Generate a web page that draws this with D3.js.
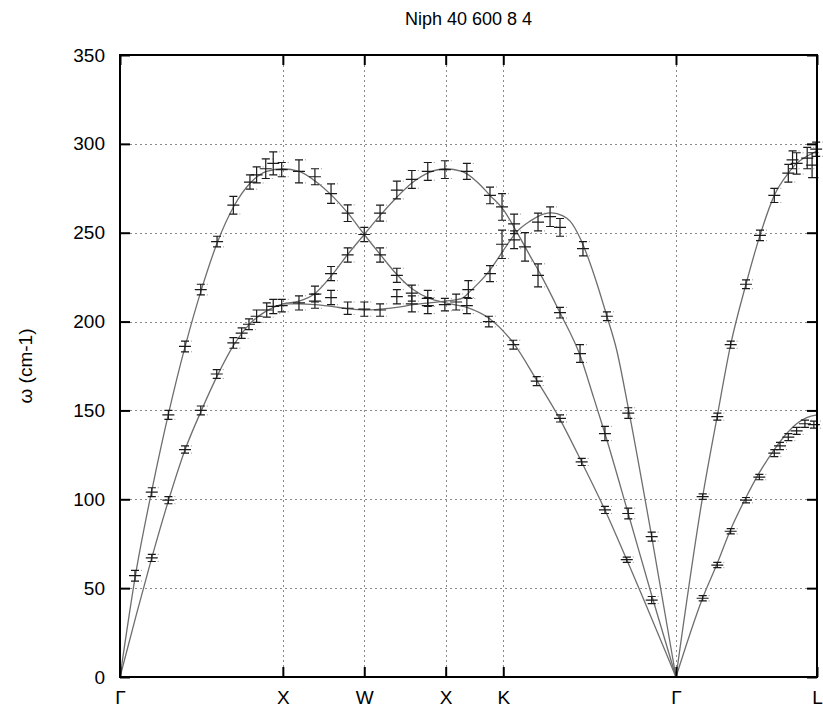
<!DOCTYPE html>
<html>
<head>
<meta charset="utf-8">
<script src="https://cdn.jsdelivr.net/npm/d3@7"></script>
<style>
  body { margin: 0; background: #fff; }
  text { font-family: "Liberation Sans", Arial, sans-serif; fill: #000; }
</style>
</head>
<body>
<svg id="chart" width="823" height="714"></svg>
<script>
// High-symmetry path of the FCC Brillouin zone (path length in units of 2π/a)
const pathLabels = ["Γ", "X", "W", "X", "K", "Γ", "L"];
const pathPos = [0, 1, 1.5, 2, 2.3536, 3.4142, 4.2802];
const yTicks = [0, 50, 100, 150, 200, 250, 300, 350];

// Calculated dispersion branches (q along path, ω in cm-1)
const branchA_q = [0, 0.1, 0.2, 0.3, 0.4, 0.5, 0.6, 0.7, 0.8, 0.9, 1.0, 1.1, 1.2, 1.3, 1.4, 1.5, 1.6, 1.7, 1.8, 1.9, 2.0, 2.13, 2.272, 2.415, 2.559, 2.702, 2.835, 2.978, 3.112, 3.4142];
const branchA_w = [0, 60, 107, 149, 186, 218, 245, 265, 278, 284.5, 286, 284.5, 279, 271, 261, 249, 237.5, 226.5, 218, 213, 210.5, 208, 201.5, 188, 167, 145, 121, 94, 66, 0];

const branchB_q = [0, 0.1, 0.195, 0.3, 0.4, 0.5, 0.6, 0.7, 0.8, 0.9, 1.0, 1.1, 1.2, 1.3, 1.4, 1.5, 1.6, 1.7, 1.8, 1.9, 2.0, 2.1, 2.2, 2.272, 2.354, 2.436, 2.518, 2.58, 2.702, 2.825, 2.906, 2.978, 3.121, 3.265, 3.4142];
const branchB_w = [0, 35, 67, 100, 128, 150, 170, 187, 199, 206, 210, 211.5, 216, 226, 238, 249, 260, 270, 278.5, 284, 286, 284.5, 278, 271, 263, 250.5, 237, 227, 205, 181, 158, 137, 92, 46, 0];

const branchC_q = [1.0, 1.1, 1.2, 1.3, 1.4, 1.5, 1.6, 1.7, 1.8, 1.9, 2.0, 2.1, 2.15, 2.2, 2.272, 2.354, 2.436, 2.518, 2.6, 2.65, 2.72, 2.764, 2.825, 2.87, 2.93, 2.99, 3.05, 3.12, 3.265, 3.4142];
const branchC_w = [210, 210, 209.5, 208.5, 207.2, 206.5, 207, 208, 209.5, 210.5, 211.5, 213, 217, 221.5, 229, 240, 250.5, 256.5, 260.5, 261.2, 259.5, 256.5, 247, 237, 221, 203, 184, 152, 79, 0];

const branchL1_q = [3.4142, 3.578, 3.668, 3.75, 3.844, 3.93, 4.018, 4.104, 4.155, 4.217, 4.2802];
const branchL1_w = [0, 101.5, 147, 187, 221, 248.5, 271, 283.5, 289, 293, 296];

const branchL2_q = [3.4142, 3.578, 3.668, 3.75, 3.844, 3.926, 4.018, 4.104, 4.155, 4.217, 4.2802];
const branchL2_w = [0, 44.5, 64, 83, 101, 115, 128, 138, 142.5, 146, 147.5];

// Measured frequencies with error (half-width, cm-1)
const measQ = [
  0.092, 0.195, 0.297, 0.399, 0.496, 0.596, 0.696, 0.798, 0.839, 0.895, 0.941, 0.993,
  0.195, 0.297, 0.399, 0.496, 0.594, 0.696, 0.747, 0.792, 0.839, 0.901, 0.941, 0.993,
  1.099, 1.197, 1.296, 1.398, 1.099, 1.197, 1.197, 1.296, 1.296, 1.398, 1.398, 1.5, 1.5,
  1.597, 1.597, 1.597, 1.7, 1.7, 1.7, 1.792, 1.792, 1.792, 1.89, 1.89, 1.89, 1.995, 1.995, 2.064,
  2.13, 2.139, 2.13, 2.272, 2.272, 2.265, 2.346, 2.346, 2.42, 2.42, 2.415,
  2.487, 2.567, 2.641, 2.702, 2.567, 2.559, 2.702, 2.702, 2.835, 2.843, 2.825, 2.978, 2.978, 2.99,
  3.112, 3.121, 3.121, 3.265, 3.265,
  3.578, 3.668, 3.75, 3.844, 3.93, 4.018, 4.104, 4.13, 4.155, 4.22, 4.25, 4.275,
  3.578, 3.668, 3.75, 3.844, 3.926, 4.018, 4.053, 4.104, 4.155, 4.206, 4.261
];
const measW = [
  57, 104, 147.5, 186, 218, 245, 265.5, 278.5, 282.5, 286, 289, 285.5,
  67, 99.5, 128, 150, 170.5, 188, 193.5, 198.5, 203, 206.5, 208.5, 209,
  284.5, 281.5, 272, 261, 210.5, 211.5, 215.5, 227, 213.5, 237.5, 207.5, 249, 207,
  261, 237.5, 206.5, 274, 226, 214, 280, 216, 210, 284.5, 213, 209, 285.5, 209.5, 211,
  284.5, 218, 209, 271, 227, 200, 264.5, 243.5, 255, 246, 187,
  242, 256, 259, 253, 226, 166.5, 205, 145.5, 121, 241, 182, 137, 94, 203,
  66, 92, 148.5, 43.3, 79,
  101.5, 146.5, 187, 221, 248.5, 271, 283.5, 291, 289, 292, 288, 297,
  44.3, 63, 82, 99.5, 112.5, 126, 130, 135, 138.5, 142.5, 142
];
const measErr = [
  3, 2.5, 2.5, 3, 3, 3, 5, 4, 4.5, 5.5, 6.5, 4,
  2, 2, 2, 2.5, 2.5, 3, 3, 3, 3.5, 4, 4, 3.5,
  6.5, 4.5, 5.5, 4.7, 4, 4, 4.5, 4, 4, 4, 3.5, 4, 4,
  4.5, 4, 3.5, 5, 4, 4, 5, 4.5, 4.5, 5, 4.5, 4.5, 5, 3.5, 4.5,
  4.5, 5, 4.5, 4.7, 4.5, 3, 7.5, 8, 5.5, 5, 2.5,
  8, 5, 5.5, 5, 6.5, 2.5, 3, 2, 2, 4, 5, 4, 2, 2.5,
  1.5, 3, 3, 2, 2.5,
  1.5, 2, 2, 2.5, 3, 4, 5, 5, 6, 6, 7, 4,
  1.5, 1.5, 1.5, 1.5, 1.5, 2, 2, 2, 2, 2, 2
];

const svg = d3.select("#chart");
const margin = { left: 120, right: 817, top: 55, bottom: 677 };

const x = d3.scaleLinear().domain([pathPos[0], pathPos[pathPos.length - 1]]).range([margin.left, margin.right]);
const y = d3.scaleLinear().domain([0, 350]).range([margin.bottom, margin.top]);

// Grid
const grid = svg.append("g").attr("stroke", "#8a8a8a").attr("stroke-width", 1).attr("stroke-dasharray", "2,3");
yTicks.slice(1, -1).forEach(v => {
  grid.append("line").attr("x1", x.range()[0]).attr("x2", x.range()[1])
    .attr("y1", Math.round(y(v)) + 0.5).attr("y2", Math.round(y(v)) + 0.5);
});
pathPos.slice(1, -1).forEach(v => {
  grid.append("line").attr("y1", y.range()[0]).attr("y2", y.range()[1])
    .attr("x1", Math.round(x(v)) + 0.5).attr("x2", Math.round(x(v)) + 0.5);
});

// Dispersion curves
const line = d3.line().x(d => x(d[0])).y(d => y(d[1])).curve(d3.curveMonotoneX);
const branches = [
  [branchA_q, branchA_w], [branchB_q, branchB_w], [branchC_q, branchC_w],
  [branchL1_q, branchL1_w], [branchL2_q, branchL2_w]
];
svg.append("g").selectAll("path").data(branches).join("path")
  .attr("d", b => line(d3.zip(b[0], b[1])))
  .attr("fill", "none").attr("stroke", "#6e6e6e").attr("stroke-width", 1.3);

// Error bars with point markers
const meas = measQ.map((q, i) => ({ q, w: measW[i], e: measErr[i] }));
const eb = svg.append("g").selectAll("g").data(meas).join("g")
  .attr("transform", d => `translate(${x(d.q)},0)`);
// faint dotted echo of the caps
eb.append("path")
  .attr("d", d => `M3,${y(d.w + d.e)}H8M3,${y(d.w - d.e)}H8`)
  .attr("stroke", "#9a9a9a").attr("stroke-width", 1).attr("stroke-dasharray", "1,2").attr("fill", "none");
eb.append("path")
  .attr("d", d => `M0,${y(d.w + d.e)}V${y(d.w - d.e)}M-4,${y(d.w + d.e)}H4M-4,${y(d.w - d.e)}H4M-6,${y(d.w)}H6`)
  .attr("stroke", "#1a1a1a").attr("stroke-width", 1.2).attr("fill", "none");

// Frame
svg.append("rect")
  .attr("x", margin.left).attr("y", margin.top)
  .attr("width", margin.right - margin.left).attr("height", margin.bottom - margin.top)
  .attr("fill", "none").attr("stroke", "#000").attr("stroke-width", 2);

// Y axis (left, ticks inward) and mirrored ticks on the right
const yAxis = d3.axisLeft(y).tickValues(yTicks).tickSize(-10).tickPadding(15).tickFormat(d3.format("d"));
const gy = svg.append("g").attr("transform", `translate(${margin.left},0)`).call(yAxis);
gy.select(".domain").remove();
gy.selectAll(".tick line").attr("stroke", "#000").attr("stroke-width", 2);
gy.selectAll(".tick text").attr("font-size", 19).attr("font-family", "Liberation Sans, Arial, sans-serif").attr("fill", "#000");

const gyr = svg.append("g").attr("transform", `translate(${margin.right},0)`)
  .call(d3.axisRight(y).tickValues(yTicks).tickSize(-10).tickFormat(""));
gyr.select(".domain").remove();
gyr.selectAll(".tick line").attr("stroke", "#000").attr("stroke-width", 2);

// X axis: symmetry points
const xAxis = d3.axisBottom(x).tickValues(pathPos).tickSize(-10).tickPadding(14)
  .tickFormat((d, i) => pathLabels[i]);
const gx = svg.append("g").attr("transform", `translate(0,${margin.bottom})`).call(xAxis);
gx.select(".domain").remove();
gx.selectAll(".tick line").attr("stroke", "#000").attr("stroke-width", 2);
gx.selectAll(".tick text").attr("font-size", 19).attr("fill", "#000")
  .attr("font-family", (d, i) => pathLabels[i] === "Γ" ? "Liberation Serif, serif" : "Liberation Sans, Arial, sans-serif");

const gxt = svg.append("g").attr("transform", `translate(0,${margin.top})`)
  .call(d3.axisTop(x).tickValues(pathPos).tickSize(-10).tickFormat(""));
gxt.select(".domain").remove();
gxt.selectAll(".tick line").attr("stroke", "#000").attr("stroke-width", 2);

// Title and axis label
svg.append("text").attr("x", (margin.left + margin.right) / 2).attr("y", 25)
  .attr("text-anchor", "middle").attr("font-size", 18).text("Niph 40 600 8 4");

svg.append("text").attr("transform", `translate(32,${(margin.top + margin.bottom) / 2}) rotate(-90)`)
  .attr("text-anchor", "middle").attr("font-size", 19).text("ω (cm-1)");
</script>
</body>
</html>
